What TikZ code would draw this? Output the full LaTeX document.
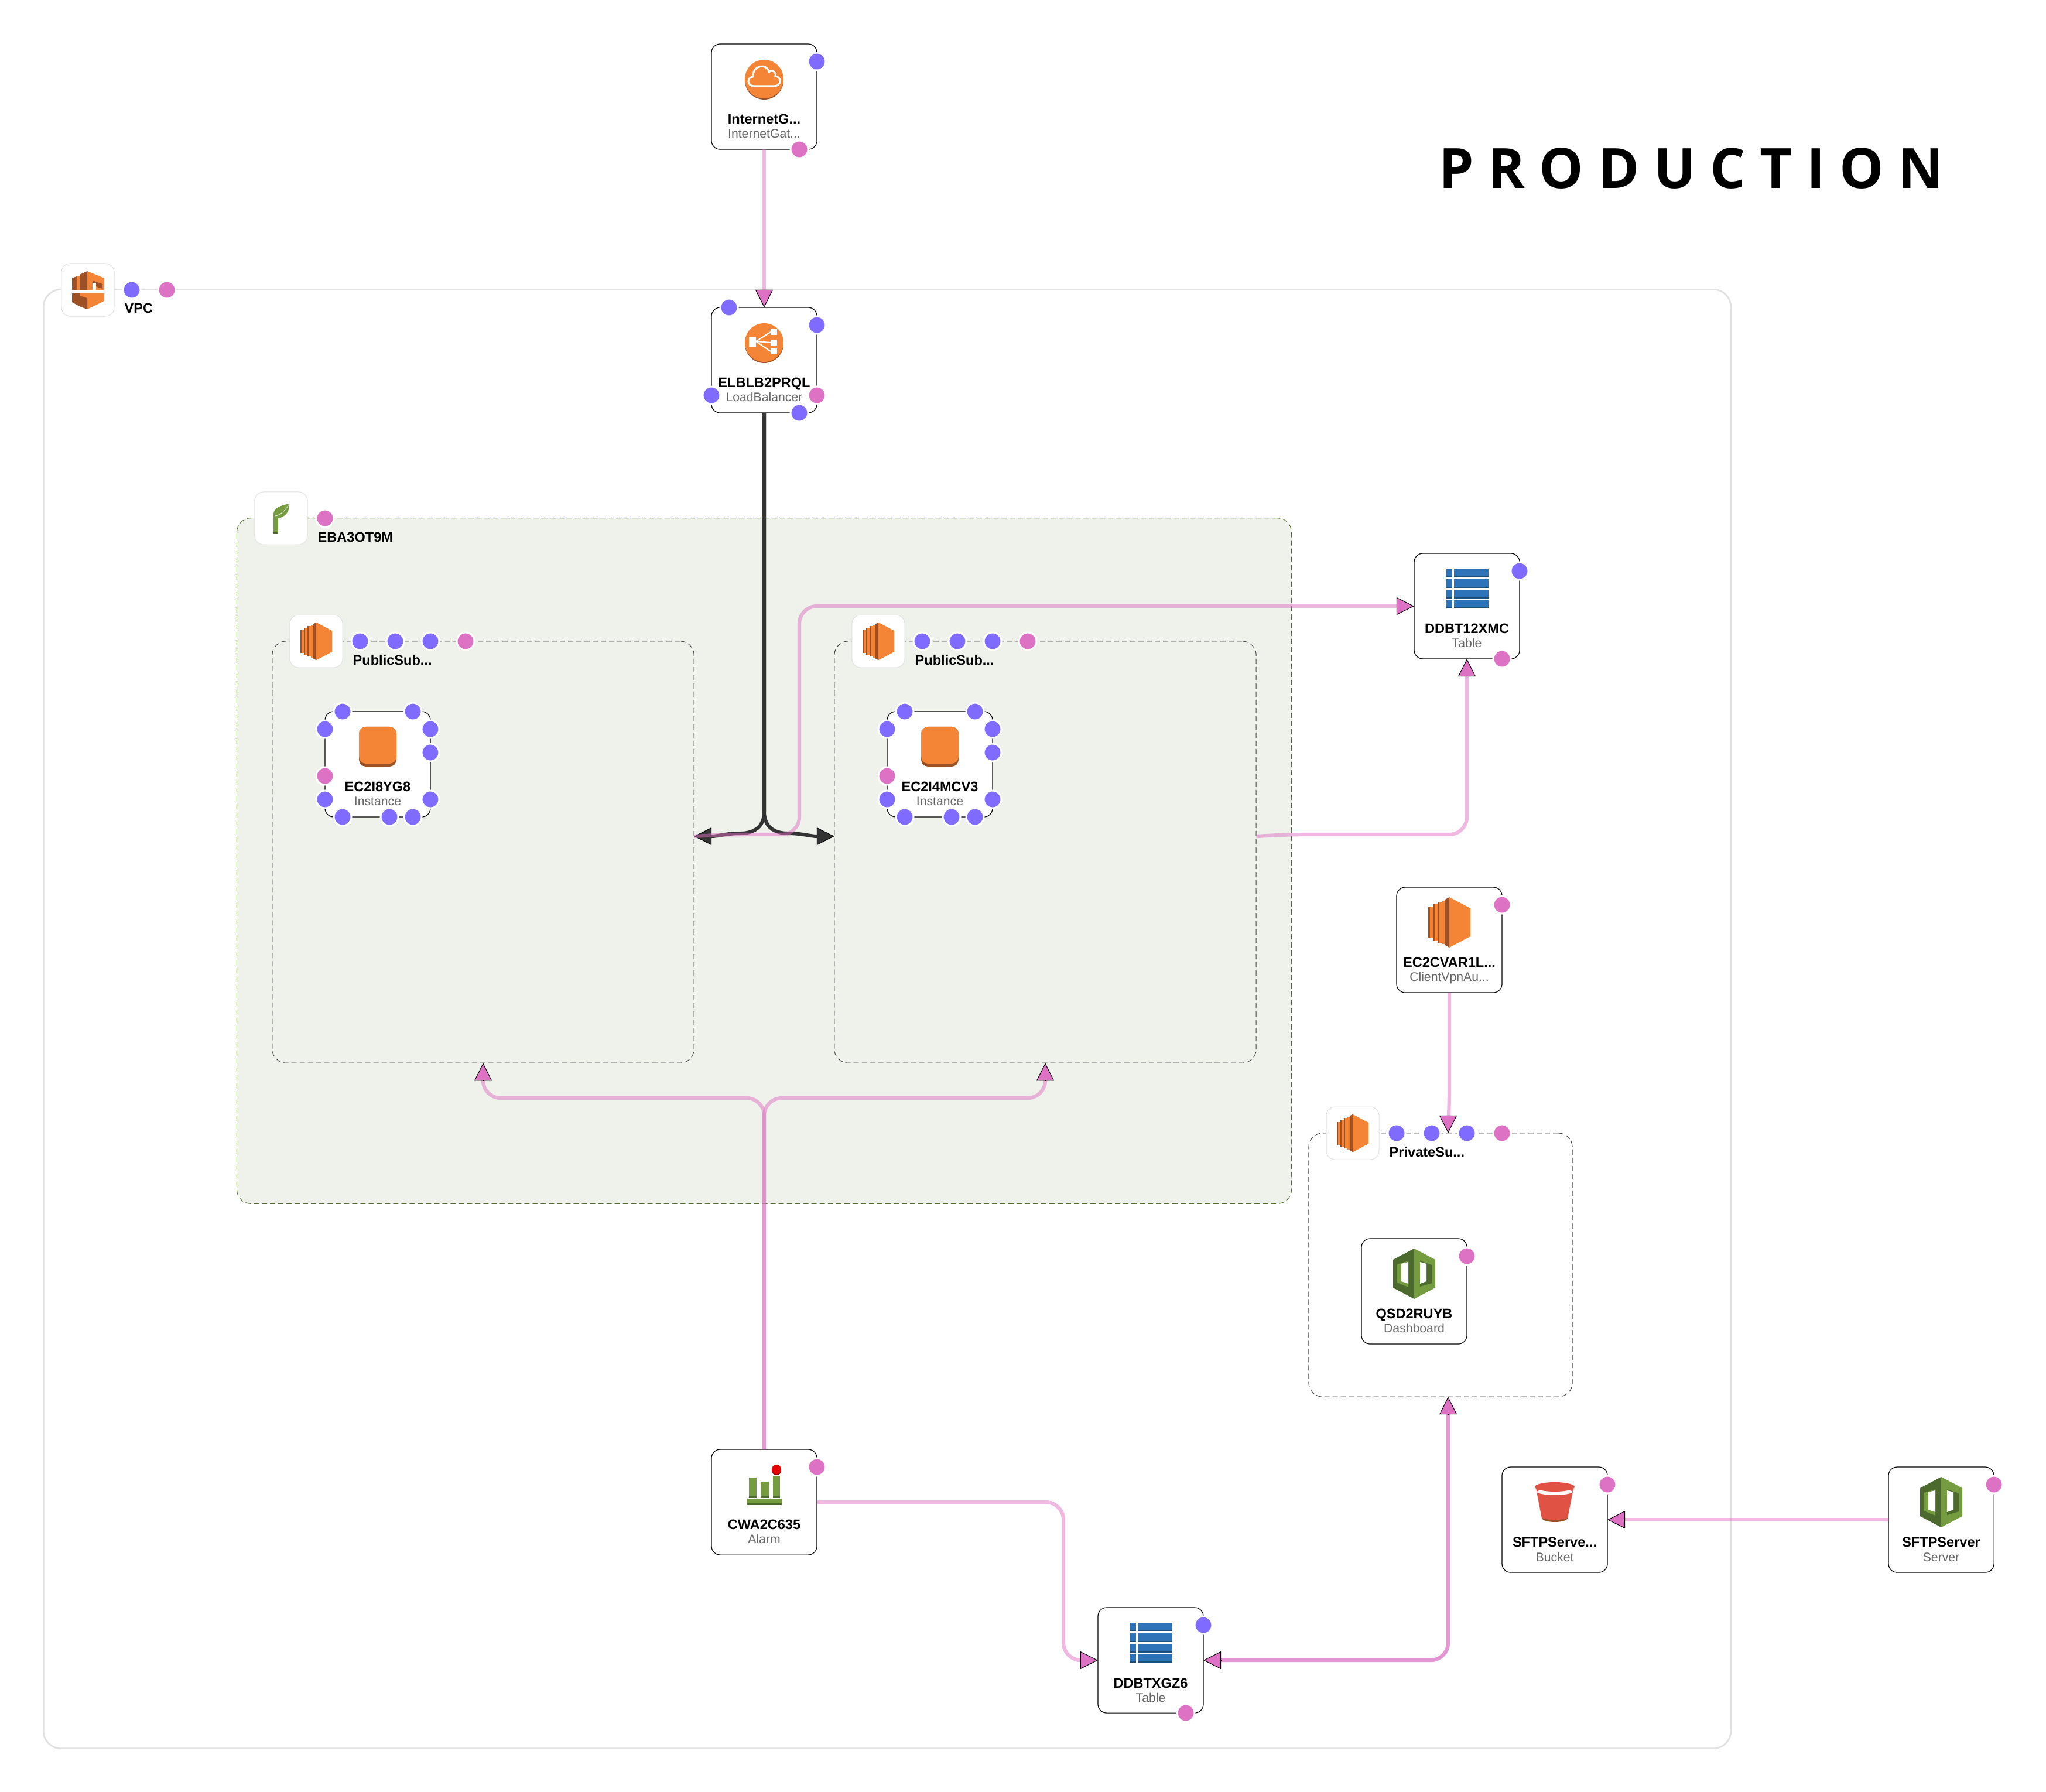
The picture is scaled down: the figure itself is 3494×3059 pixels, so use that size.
\documentclass[tikz,border=0pt]{standalone}
\usepackage{fontspec}
\setmainfont{Liberation Sans}
\newfontfamily\titlefont{Open Sans}
\usepackage{tikz}
\usetikzlibrary{arrows.meta,positioning,calc}

\definecolor{awsorange}{HTML}{F58536}
\definecolor{awsbrown}{HTML}{9D5025}
\definecolor{awsgreen}{HTML}{759C3E}
\definecolor{awsdark}{HTML}{4C6A2D}
\definecolor{awsblue}{HTML}{2E73B8}
\definecolor{awsnavy}{HTML}{1D4F7D}
\definecolor{awsred}{HTML}{E05243}
\definecolor{dotblue}{HTML}{7F6BFF}
\definecolor{dotpink}{HTML}{DD72C4}
\definecolor{zonefill}{HTML}{EFF1EB}

\tikzset{
  card/.style={draw=black,fill=white,line width=.12mm,rounded corners=1.5mm,minimum size=1.8cm,inner sep=0,outer sep=0},
  cardname/.style={anchor=base,inner sep=0,font=\fontsize{6.7}{8}\selectfont\bfseries},
  cardtype/.style={anchor=base,inner sep=0,text=black!60,font=\fontsize{6.03}{7}\selectfont},
  framelab/.style={anchor=base west,inner sep=0,font=\fontsize{6.7}{8}\selectfont\bfseries},
  iconbox/.style={draw=black!12,fill=white,line width=.1mm,rounded corners=1.5mm,minimum size=.9cm,inner sep=0,outer sep=0},
  vpcbox/.style={draw=black!12,line width=.27mm,rounded corners=3mm,inner sep=0,outer sep=0},
  zonebox/.style={draw=awsgreen!70!black,fill=zonefill,line width=.1mm,dash pattern=on .9mm off .5mm,rounded corners=2.4mm,inner sep=0,outer sep=0},
  subbox/.style={draw=black!75,line width=.1mm,dash pattern=on .9mm off .5mm,rounded corners=2.4mm,inner sep=0,outer sep=0},
  bdot/.style={circle,fill=dotblue,draw=white,line width=.3mm,minimum size=3mm,inner sep=0,outer sep=0},
  pdot/.style={circle,fill=dotpink,draw=white,line width=.3mm,minimum size=3mm,inner sep=0,outer sep=0},
  pinkflow/.style={draw=dotpink,draw opacity=.5,line width=.62mm,rounded corners=3mm},
  pinkto/.style={pinkflow,shorten >=2mm},
  pinkhead/.style={draw=black,line width=.1mm,-{Triangle[length=3mm,width=3mm,fill=dotpink,line width=.1mm]}},
  blackflow/.style={draw=black!80,line width=.6mm,-{Triangle[length=3mm,width=3mm,fill=black!80,color=black,line width=.1mm]}},
  ec2pic/.pic={
    \foreach \x/\h in {-36/26,-28/31,-20/35}{
      \fill[awsbrown] (\x,-\h) rectangle ++(3,2*\h);
      \fill[awsorange] (\x+3,-\h) rectangle ++(5,2*\h);
    }
    \fill[awsorange] (-12,-37) rectangle (-7,37);
    \fill[awsbrown] (-7,-39) -- (0,-43) -- (0,43) -- (-7,39) -- cycle;
    \fill[awsorange] (0,-43) -- (36,-24) -- (36,24) -- (0,43) -- cycle;
  },
  igwpic/.pic={
    \fill[awsbrown] (0,2) circle[radius=33];
    \fill[awsorange] (0,0) circle[radius=33];
    \draw[white,line width=.3mm] (-17,12) .. controls (-30,12) and (-30,-3) .. (-19,-4)
      .. controls (-20,-24) and (5,-28) .. (8,-12) .. controls (14,-17) and (21,-12) .. (19,-5)
      .. controls (30,-4) and (30,12) .. (17,12) -- cycle;
  },
  elbpic/.pic={
    \fill[awsbrown] (0,2) circle[radius=33];
    \fill[awsorange] (0,0) circle[radius=33];
    \fill[white] (-26,-10) rectangle (-14,7);
    \foreach \y in {-23,-5,10}{
      \fill[white] (11,\y) rectangle ++(11,10);
      \draw[white,line width=.2mm] (-14,-2) -- (11,\y+5);
    }
  },
  instpic/.pic={
    \fill[awsbrown,rounded corners=1.2mm] (-32,-34) rectangle (32,34);
    \fill[awsorange,rounded corners=1.2mm] (-32,-34) rectangle (32,29);
  },
  tablepic/.pic={
    \foreach \y/\h in {-34/14,-16/15,3/14,20/14}{
      \fill[awsblue] (-36,\y) rectangle ++(11,\h);
      \fill[awsblue] (-22,\y) rectangle ++(59,\h);
      \fill[awsnavy] (-36,\y+\h-2) rectangle ++(11,2);
      \fill[awsnavy] (-22,\y+\h-2) rectangle ++(59,2);
    }
  },
  cubepic/.pic={
    \fill[awsdark] (0,-43) -- (-36,-24) -- (-36,24) -- (0,43) -- cycle;
    \fill[awsgreen] (0,-43) -- (36,-24) -- (36,24) -- (0,43) -- cycle;
    \fill[awsgreen] (-29,-16) -- (-10,-22) -- (-10,23) -- (-29,15) -- cycle;
    \fill[white] (-22,-17) -- (-10,-20) -- (-10,17) -- (-22,13) -- cycle;
    \fill[awsdark] (10,-22) -- (30,-15) -- (30,16) -- (10,22) -- cycle;
    \fill[white] (10,-20) -- (21,-17) -- (21,13) -- (10,17) -- cycle;
  },
  bucketpic/.pic={
    \fill[awsred] (-32,-24) -- (32,-24) -- (22,28) -- (-22,28) -- cycle;
    \fill[awsbrown] (-22,27) arc[start angle=180,end angle=360,x radius=22,y radius=-7] -- cycle;
    \fill[awsred] (-22,26) arc[start angle=180,end angle=360,x radius=22,y radius=-4] -- cycle;
    \fill[white] (-32,-19) arc[start angle=180,end angle=360,x radius=32,y radius=-7] -- (32,-16) arc[start angle=0,end angle=-180,x radius=32,y radius=7] -- cycle;
    \fill[awsred] (0,-26) ellipse[x radius=34,y radius=8];
  },
  alarmpic/.pic={
    \foreach \x/\y/\w in {-26/-12/13,-6/-5/14,15/-15/12}{
      \fill[awsgreen] (\x,\y) rectangle (\x+\w,23);
      \fill[awsdark] (\x,20) rectangle (\x+\w,23);
    }
    \fill[awsgreen] (-29,25) rectangle (30,35);
    \fill[awsdark] (-29,32) rectangle (30,35);
    \fill[red!60!black] (21,-24) circle[radius=8];
    \fill[red!90!black] (21,-26) circle[radius=8];
  },
  leafpic/.pic={
    \fill[awsgreen] (-13,-8) rectangle (-5,26);
    \fill[awsdark] (-13,23) rectangle (-5,26);
    \fill[awsgreen] (-13,-8) .. controls (-12,-18) and (0,-22) .. (14,-25) .. controls (15,-10) and (6,-2) .. (-5,0) -- (-13,2) -- cycle;
    \draw[white,line width=.08mm] (-10,-4) .. controls (0,-6) and (8,-14) .. (14,-25);
  },
  vpcpic/.pic={
    \fill[awsbrown] (-27,-20) -- (-19,-23) -- (-19,0) -- (-27,0) -- cycle;
    \fill[awsorange] (-19,-23) rectangle (-14,0);
    \fill[awsbrown] (-14,-26) -- (-1,-32) -- (-1,0) -- (-14,0) -- cycle;
    \fill[awsorange] (-1,-32) -- (28,-20) -- (28,0) -- (-1,0) -- cycle;
    \fill[awsbrown] (8,-16) -- (25,-10) -- (25,-2) -- (8,-8) -- cycle;
    \fill[white] (8,-12) rectangle (14,0);
    \fill[awsbrown] (-27,6) -- (-14,6) -- (-14,28) -- (-27,21) -- cycle;
    \fill[awsorange] (-14,6) -- (28,6) -- (28,19) -- (-1,33) -- (-14,28) -- cycle;
    \fill[awsbrown] (-14,10) -- (-1,14) -- (-1,33) -- (-14,28) -- cycle;
  }
}

\newcommand{\card}[6]{
  \node[card] (#1) at (#2,#3) {};
  \pic at ($(#1.north)+(0,60)$) {#4};
  \node[cardname] (#1t) at ($(#1.north)+(0,137)$) {#5};
  \node[cardtype] (#1s) at ($(#1.north)+(0,161)$) {#6};
}

\begin{document}
\begin{tikzpicture}[x=.01cm,y=-.01cm]
  \useasboundingbox (-1,-1) rectangle (3493,3058);

  \node[font=\titlefont\bfseries\fontsize{27}{32}\selectfont,inner sep=0] (title) at (2887,287) {P R O D U C T I O N};

  % groups
  \node[vpcbox,minimum width=28.8cm,minimum height=24.9cm] (vpc) at (1514,1739) {};
  \node[zonebox,minimum width=18cm,minimum height=11.7cm] (eba) at (1304,1469) {};
  \node[subbox,minimum width=7.2cm,minimum height=7.2cm] (suba) at (824,1454) {};
  \node[subbox,minimum width=7.2cm,minimum height=7.2cm] (subb) at (1784,1454) {};
  \node[subbox,minimum width=4.5cm,minimum height=4.5cm] (priv) at (2459,2159) {};

  \node[iconbox] (vpci) at (149,494) {};
  \pic at (vpci) {vpcpic};
  \node[framelab] (vpcl) at (211,533) {VPC};
  \node[iconbox] (ebai) at (479,884) {};
  \pic at (ebai) {leafpic};
  \node[framelab] (ebal) at (541,924) {EBA3OT9M};
  \node[iconbox] (subai) at (539,1094) {};
  \pic[scale=.75] at (subai) {ec2pic};
  \node[framelab] (subal) at (601,1134) {PublicSub...};
  \node[iconbox] (subbi) at (1499,1094) {};
  \pic[scale=.75] at (subbi) {ec2pic};
  \node[framelab] (subbl) at (1561,1134) {PublicSub...};
  \node[iconbox] (privi) at (2309,1934) {};
  \pic[scale=.75] at (privi) {ec2pic};
  \node[framelab] (privl) at (2371,1974) {PrivateSu...};

  % cards
  \card{igw}{1304}{164}{igwpic}{InternetG...}{InternetGat...}
  \card{elb}{1304}{614}{elbpic}{ELBLB2PRQL}{LoadBalancer}
  \card{insta}{644}{1304}{instpic}{EC2I8YG8}{Instance}
  \card{instb}{1604}{1304}{instpic}{EC2I4MCV3}{Instance}
  \card{ddba}{2504}{1034}{tablepic}{DDBT12XMC}{Table}
  \card{ec2c}{2474}{1604}{ec2pic}{EC2CVAR1L...}{ClientVpnAu...}
  \card{qsd}{2414}{2204}{cubepic}{QSD2RUYB}{Dashboard}
  \card{cwa}{1304}{2564}{alarmpic}{CWA2C635}{Alarm}
  \card{ddbb}{1964}{2834}{tablepic}{DDBTXGZ6}{Table}
  \card{bkt}{2654}{2594}{bucketpic}{SFTPServe...}{Bucket}
  \card{srv}{3314}{2594}{cubepic}{SFTPServer}{Server}

  % black flows
  \draw[blackflow] (elb.south) -- (1304,1385) .. controls (1304,1410) and (1288,1422) .. (1263,1422) .. controls (1240,1422) and (1225,1427) .. ($(suba.east)+(0,-27)$);
  \draw[blackflow] (elb.south) -- (1304,1385) .. controls (1304,1410) and (1320,1422) .. (1345,1422) .. controls (1368,1422) and (1383,1427) .. ($(subb.west)+(0,-27)$);

  % pink flows
  \draw[pinkto] (igw.south) -- (elb.north);
  \draw[pinkto] ($(suba.east)+(0,-27)$) -- (1240,1424) -- (1364,1424) -- (1364,1034) -- (ddba.west);
  \draw[pinkto] ($(subb.east)+(0,-27)$) -- (2200,1424) -- (2504,1424) -- (ddba.south);
  \draw[pinkto] (cwa.north) -- (1304,1874) -- (824,1874) -- (suba.south);
  \draw[pinkto] (cwa.north) -- (1304,1874) -- (1784,1874) -- (subb.south);
  \draw[pinkto] (cwa.east) -- (1815,2564) -- (1815,2834) -- (ddbb.west);
  \draw[pinkto,rounded corners=2mm] (ec2c.south) -- (2474,1875) -- ($(priv.north)+(13,0)$);
  \draw[pinkto,shorten <=2mm] (ddbb.east) -- (2472,2834) -- ($(priv.south)+(13,0)$);
  \draw[pinkto,shorten <=2mm] ($(priv.south)+(13,0)$) -- (2472,2834) -- (ddbb.east);
  \draw[pinkto] (srv.west) -- (bkt.east);

  % arrow heads
  \draw[pinkhead] ($(elb.north)+(0,-30)$) -- (elb.north);
  \draw[pinkhead] ($(ddba.west)+(-30,0)$) -- (ddba.west);
  \draw[pinkhead] ($(ddba.south)+(0,30)$) -- (ddba.south);
  \draw[pinkhead] ($(suba.south)+(0,30)$) -- (suba.south);
  \draw[pinkhead] ($(subb.south)+(0,30)$) -- (subb.south);
  \draw[pinkhead] ($(ddbb.west)+(-30,0)$) -- (ddbb.west);
  \draw[pinkhead] ($(ddbb.east)+(30,0)$) -- (ddbb.east);
  \draw[pinkhead] ($(priv.north)+(13,-30)$) -- ($(priv.north)+(13,0)$);
  \draw[pinkhead] ($(priv.south)+(13,30)$) -- ($(priv.south)+(13,0)$);
  \draw[pinkhead] ($(bkt.east)+(30,0)$) -- (bkt.east);

  % ports
  \foreach \n/\x/\y in {b1/1394/104,b2/1244/524,b3/1394/554,b4/1214/674,b5/1364/704,b6/224/494,
    b7/614/1094,b8/674/1094,b9/734/1094,b10/1574/1094,b11/1634/1094,b12/1694/1094,
    b13/584/1214,b14/704/1214,b15/554/1244,b16/554/1364,b17/734/1244,b18/734/1284,b19/734/1364,
    b20/584/1394,b21/664/1394,b22/704/1394,
    b23/1544/1214,b24/1664/1214,b25/1514/1244,b26/1514/1364,b27/1694/1244,b28/1694/1284,b29/1694/1364,
    b30/1544/1394,b31/1624/1394,b32/1664/1394,
    b33/2594/974,b34/2384/1934,b35/2444/1934,b36/2504/1934,b37/2054/2774}
    \node[bdot] (\n) at (\x,\y) {};
  \foreach \n/\x/\y in {p1/1364/254,p2/1394/674,p3/284/494,p4/554/884,p5/794/1094,p6/1754/1094,
    p7/554/1324,p8/1514/1324,p9/2564/1124,p10/2564/1544,p11/2564/1934,p12/2504/2144,
    p13/1394/2504,p14/2744/2534,p15/3404/2534,p16/2024/2924}
    \node[pdot] (\n) at (\x,\y) {};
\end{tikzpicture}
\end{document}
